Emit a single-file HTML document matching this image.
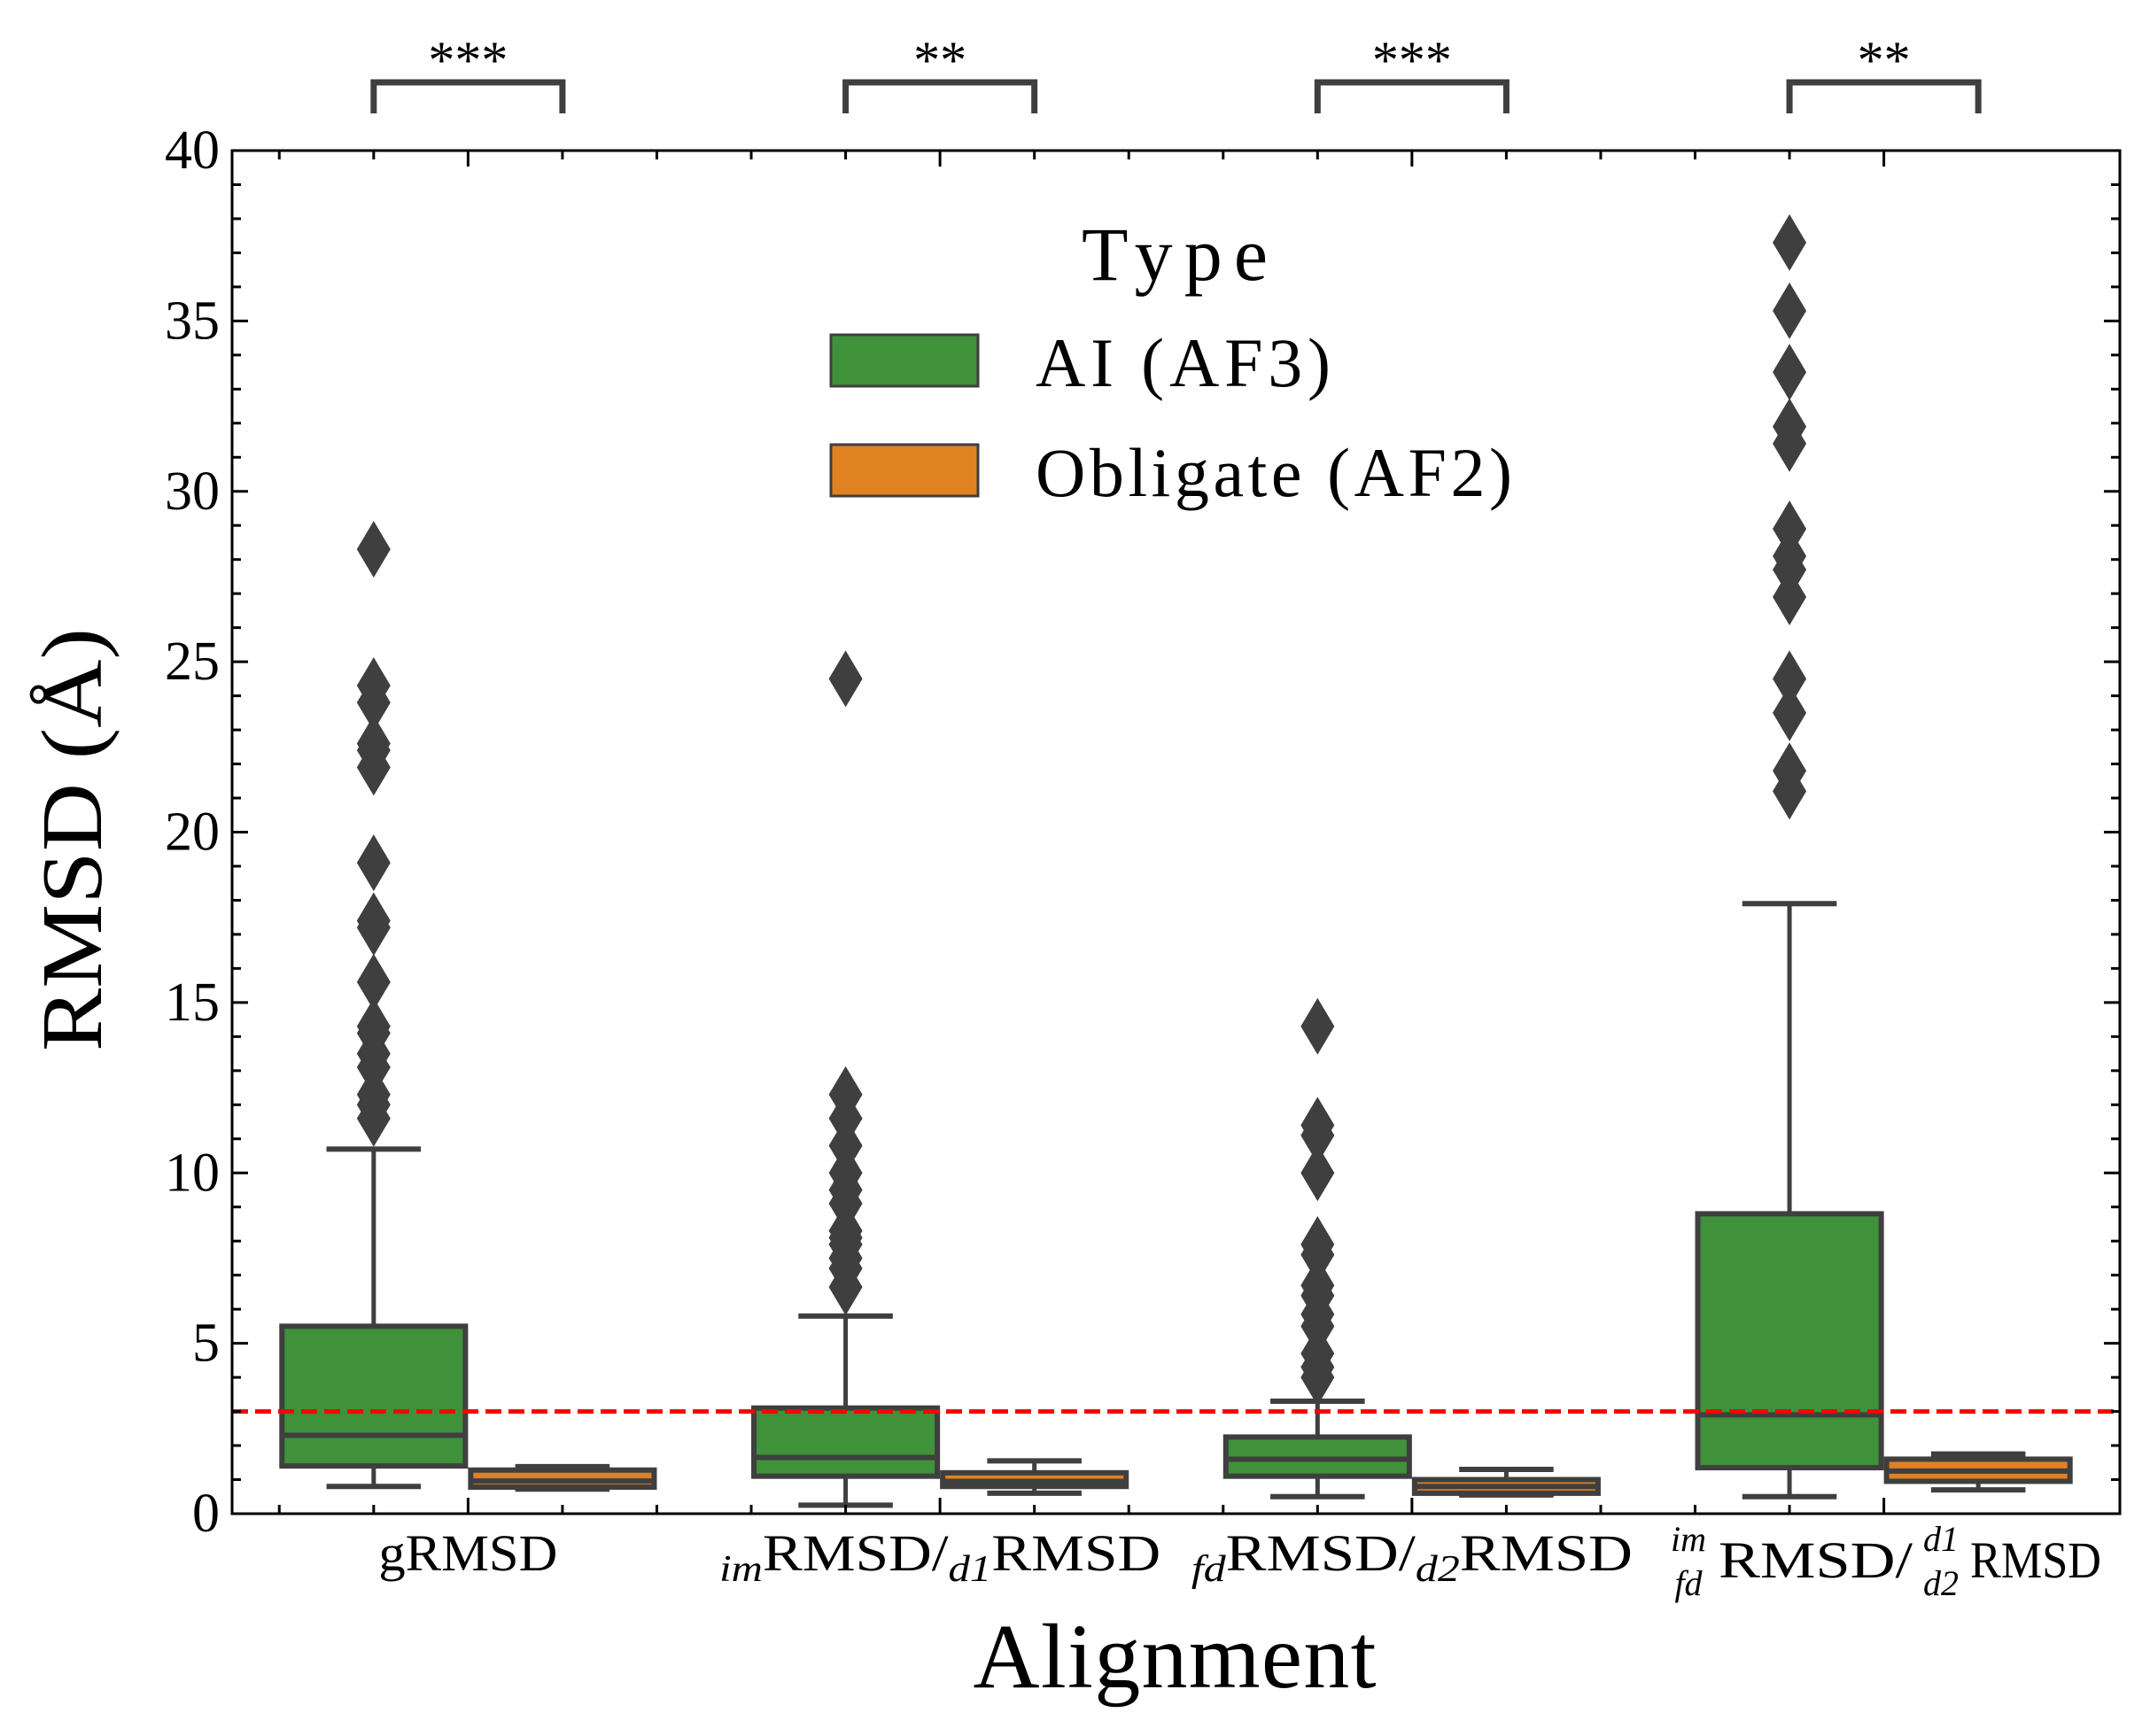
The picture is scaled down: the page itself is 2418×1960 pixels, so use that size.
<!DOCTYPE html>
<html><head><meta charset="utf-8"><style>
html,body{margin:0;padding:0;background:#fff;}
svg text{font-family:"Liberation Serif",serif;fill:#000;}
</style></head><body>
<svg id="chart" width="2418" height="1955" viewBox="0 0 2418 1955" xmlns="http://www.w3.org/2000/svg">
<rect x="0" y="0" width="2418" height="1955" fill="#fff"/>
<g id="marks"></g>
<g id="axes"></g>
<text x="82" y="948" font-size="98" text-anchor="middle" textLength="478" lengthAdjust="spacingAndGlyphs" transform="rotate(-90 82 948)" dominant-baseline="central">RMSD (Å)</text>
<text x="1326" y="1905" font-size="104" text-anchor="middle" textLength="455">Alignment</text>
<g>
<text x="1326" y="316" font-size="86" text-anchor="middle" textLength="210">Type</text>
<rect x="938" y="378" width="166" height="58" fill="#3f923a" stroke="#3f3f3f" stroke-width="3"/>
<text x="1169" y="436" font-size="78" textLength="333">AI (AF3)</text>
<rect x="938" y="502" width="166" height="58" fill="#e08122" stroke="#3f3f3f" stroke-width="3"/>
<text x="1169" y="560" font-size="78" textLength="538">Obligate (AF2)</text>
</g>
</svg>
<script>
const categories = ["gRMSD", "imRMSD/d1RMSD", "fdRMSD/d2RMSD", "imfdRMSD/d1d2RMSD"];
const significance = ["***", "**", "***", "**"];
// [whiskerLow, q1, median, q3, whiskerHigh]
const aiStats = [[0.8,1.4,2.3,5.5,10.7],[0.25,1.1,1.65,3.1,5.8],[0.5,1.1,1.6,2.25,3.3],[0.5,1.35,2.9,8.8,17.9]];
const obligateStats = [[0.72,0.78,0.96,1.28,1.38],[0.6,0.8,0.95,1.2,1.55],[0.55,0.6,0.8,1.0,1.3],[0.7,0.95,1.25,1.6,1.75]];
const aiOutliers = [
 [28.3,24.3,23.8,22.6,22.4,21.9,19.1,17.4,17.2,15.6,14.3,14.1,13.5,13.1,12.3,12.0,11.6],
 [24.5,12.3,11.6,10.8,10.0,9.5,9.1,8.3,8.1,7.9,7.5,7.2,6.65],
 [14.3,11.4,11.1,10.0,7.9,7.6,6.7,6.4,5.85,5.5,4.7,4.3,4.0],
 [37.3,35.3,33.5,31.9,31.4,28.9,28.1,27.7,26.9,24.5,23.5,21.8,21.2]
];
const yTicks = [0,5,10,15,20,25,30,35,40];
const threshold = 3;

const NS="http://www.w3.org/2000/svg";
const L=262,R=2393,T=170,B=1709;
const xs=v=>L+(v+0.5)*(R-L)/4;
const ys=v=>B-v*(B-T)/40;
const marks=document.getElementById('marks'), axes=document.getElementById('axes'), svg=document.getElementById('chart');
function mk(tag,attrs,parent){const e=document.createElementNS(NS,tag);for(const k in attrs)e.setAttribute(k,attrs[k]);parent.appendChild(e);return e;}
const DK="#3f3f3f";
function drawBox(st,cx,fill,name){
  const hw=(xs(0.2)-xs(0))-3, cw=(xs(0.1)-xs(0));
  const g=mk('g',{},marks);
  
  
  let e=mk('line',{x1:cx,x2:cx,y1:ys(st[0]),y2:ys(st[1]),stroke:DK,'stroke-width':5},g);
  
  e=mk('line',{x1:cx,x2:cx,y1:ys(st[3]),y2:ys(st[4]),stroke:DK,'stroke-width':5},g);
  
  e=mk('line',{x1:cx-cw,x2:cx+cw,y1:ys(st[0]),y2:ys(st[0]),stroke:DK,'stroke-width':6},g);
  
  e=mk('line',{x1:cx-cw,x2:cx+cw,y1:ys(st[4]),y2:ys(st[4]),stroke:DK,'stroke-width':6},g);
  
  e=mk('rect',{x:cx-hw,y:ys(st[3]),width:2*hw,height:ys(st[1])-ys(st[3]),fill:fill,stroke:DK,'stroke-width':6},g);
  
  e=mk('line',{x1:cx-hw,x2:cx+hw,y1:ys(st[2]),y2:ys(st[2]),stroke:DK,'stroke-width':6},g);
  
}
categories.forEach((c,i)=>{
  drawBox(aiStats[i],xs(i-0.2),"#3f923a","box-ai-"+i);
  drawBox(obligateStats[i],xs(i+0.2),"#e08122","box-obligate-"+i);
  aiOutliers[i].forEach(v=>{
    const cx=xs(i-0.2),cy=ys(v);
    const p=mk('polygon',{points:`${cx},${cy-32} ${cx+19},${cy} ${cx},${cy+32} ${cx-19},${cy}`,fill:DK},marks);
    
    
  });
  const x1=xs(i-0.2),x2=xs(i+0.2);
  const br=mk('path',{d:`M${x1},128 L${x1},93 L${x2},93 L${x2},128`,fill:'none',stroke:DK,'stroke-width':7},svg);
  
  
  const st=mk('text',{x:xs(i),y:88,'font-size':60,'text-anchor':'middle'},svg);
  st.textContent=significance[i];
  
  
});
const th=mk('line',{x1:L,x2:R,y1:ys(threshold),y2:ys(threshold),stroke:'#ff0000','stroke-width':5,'stroke-dasharray':'18,8'},marks);


const fr=mk('rect',{x:L,y:T,width:R-L,height:B-T,fill:'none',stroke:'#000','stroke-width':3},axes);


for(let v=0;v<=40;v++){
  const y=ys(v),len=(v%5===0)?18:10;
  mk('line',{x1:L,x2:L+len,y1:y,y2:y,stroke:'#000','stroke-width':3},axes);
  mk('line',{x1:R,x2:R-len,y1:y,y2:y,stroke:'#000','stroke-width':3},axes);
}
yTicks.forEach(v=>{
  const t=mk('text',{x:L-14,y:ys(v),'font-size':62,'text-anchor':'end','dominant-baseline':'central'},axes);
  t.textContent=v;
  
  
});
for(let k=-2;k<=17;k++){
  const v=k*0.2-0.4; if(v<-0.5||v>3.5) continue;
  const x=xs(v), major=(Math.abs(v-Math.round(v))<1e-6);
  const len=major?18:10;
  mk('line',{x1:x,x2:x,y1:B,y2:B-len,stroke:'#000','stroke-width':3},axes);
  mk('line',{x1:x,x2:x,y1:T,y2:T+len,stroke:'#000','stroke-width':3},axes);
}
const labelY=1773;
function lab(i,parts,tl){
  const a={x:xs(i),y:labelY,'font-size':58,'text-anchor':'middle'};
  if(tl){a.textLength=tl;a.lengthAdjust='spacingAndGlyphs';}
  const t=mk('text',a,axes);
  
  
  parts.forEach(p=>{const s=mk('tspan',p[1]||{},t);s.textContent=p[0];});
}
lab(0,[[categories[0]]],202);
lab(1,[["im",{'font-size':42,'font-style':'italic',dy:12}],["RMSD/",{dy:-12}],["d1",{'font-size':42,'font-style':'italic',dy:12}],["RMSD",{dy:-12}]],498);
lab(2,[["fd",{'font-size':42,'font-style':'italic',dy:12}],["RMSD/",{dy:-12}],["d2",{'font-size':42,'font-style':'italic',dy:12}],["RMSD",{dy:-12}]],498);
(function(){
  const y=labelY+8;
  const g=mk('g',{},axes);
  
  
  const a=mk('text',{x:1906,y:y-30,'font-size':40,'font-style':'italic','text-anchor':'middle'},g);a.textContent="im";
  const b=mk('text',{x:1906,y:y+20,'font-size':40,'font-style':'italic','text-anchor':'middle'},g);b.textContent="fd";
  const m=mk('text',{x:1940,y:y,'font-size':58,'text-anchor':'start',textLength:219,lengthAdjust:'spacingAndGlyphs'},g);m.textContent="RMSD/";
  const c=mk('text',{x:2191,y:y-30,'font-size':40,'font-style':'italic','text-anchor':'middle'},g);c.textContent="d1";
  const d=mk('text',{x:2191,y:y+20,'font-size':40,'font-style':'italic','text-anchor':'middle'},g);d.textContent="d2";
  const n=mk('text',{x:2224,y:y,'font-size':58,'text-anchor':'start',textLength:148,lengthAdjust:'spacingAndGlyphs'},g);n.textContent="RMSD";
})();
</script>
</body></html>
